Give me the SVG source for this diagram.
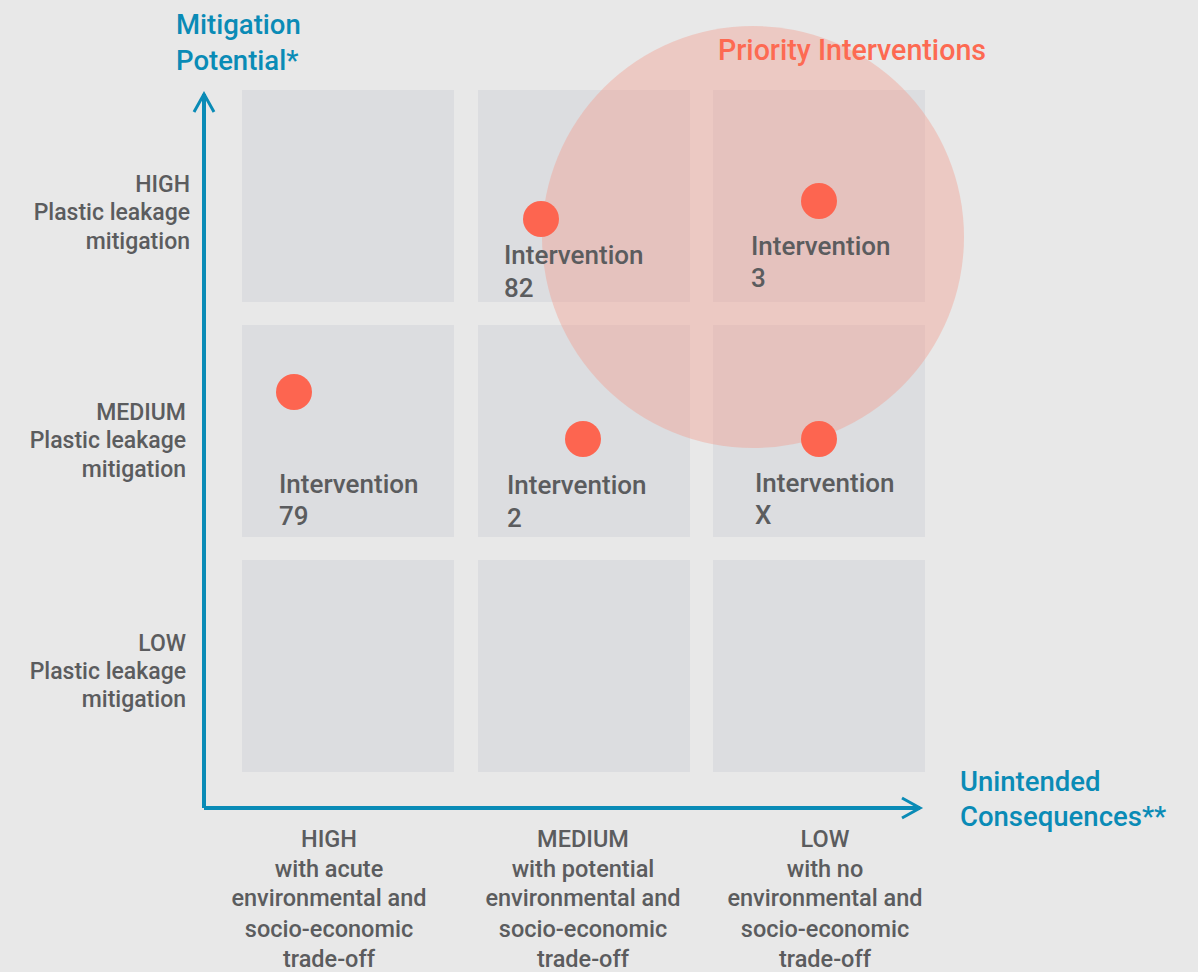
<svg xmlns="http://www.w3.org/2000/svg" width="1198" height="972" viewBox="0 0 1198 972">
<style>
.cell{fill:#dcdde0}
text{font-family:Roboto,"Liberation Sans",sans-serif;font-weight:500}
.ax{font-size:23px;fill:#5b5c5e}
.axx{font-size:23.5px;fill:#5b5c5e}
.iv{font-size:26px;fill:#5b5c5e}
.ttl{font-size:27.5px;fill:#0a8bb6}
.dot{fill:#fd6550}
.axis{stroke:#0a8bb6;stroke-width:4;fill:none}
</style>
<defs>
<marker id="arr" viewBox="0 0 12 12" refX="10" refY="6" markerWidth="6" markerHeight="6" orient="auto" markerUnits="strokeWidth">
<path d="M1,1 L10,6 L1,11" fill="none" stroke="#0a8bb6" stroke-width="1.5"/>
</marker>
</defs>
<rect width="1198" height="972" fill="#e8e8e8"/>
<g id="grid">
<rect class="cell" x="242" y="90" width="212" height="212"/>
<rect class="cell" x="478" y="90" width="212" height="212"/>
<rect class="cell" x="713" y="90" width="212" height="212"/>
<rect class="cell" x="242" y="325" width="212" height="212"/>
<rect class="cell" x="478" y="325" width="212" height="212"/>
<rect class="cell" x="713" y="325" width="212" height="212"/>
<rect class="cell" x="242" y="560" width="212" height="212"/>
<rect class="cell" x="478" y="560" width="212" height="212"/>
<rect class="cell" x="713" y="560" width="212" height="212"/>
</g>
<g id="priority">
<circle cx="753" cy="237" r="211" fill="#f29a8c" fill-opacity="0.4"/>
<text x="718" y="60" font-size="28.6" fill="#fd6a52">Priority Interventions</text>
</g>
<g id="connectors">
<path class="axis" d="M204,808 L204,94" marker-end="url(#arr)"/>
<path class="axis" d="M204,808 L920,808" marker-end="url(#arr)"/>
</g>
<g id="titles">
<text class="ttl" x="176" y="34">Mitigation</text>
<text class="ttl" x="176" y="70">Potential*</text>
<text class="ttl" x="960" y="791">Unintended</text>
<text class="ttl" x="960" y="826">Consequences**</text>
</g>
<g id="ylabels" text-anchor="end">
<text class="ax" x="190" y="192">HIGH</text>
<text class="ax" x="190" y="220">Plastic leakage</text>
<text class="ax" x="190" y="249">mitigation</text>
<text class="ax" x="186" y="420">MEDIUM</text>
<text class="ax" x="186" y="448">Plastic leakage</text>
<text class="ax" x="186" y="477">mitigation</text>
<text class="ax" x="186" y="651">LOW</text>
<text class="ax" x="186" y="679">Plastic leakage</text>
<text class="ax" x="186" y="707">mitigation</text>
</g>
<g id="xlabels" text-anchor="middle">
<text class="axx" x="329" y="847">HIGH</text>
<text class="axx" x="329" y="877">with acute</text>
<text class="axx" x="329" y="906">environmental and</text>
<text class="axx" x="329" y="937">socio-economic</text>
<text class="axx" x="329" y="967">trade-off</text>
<text class="axx" x="583" y="847">MEDIUM</text>
<text class="axx" x="583" y="877">with potential</text>
<text class="axx" x="583" y="906">environmental and</text>
<text class="axx" x="583" y="937">socio-economic</text>
<text class="axx" x="583" y="967">trade-off</text>
<text class="axx" x="825" y="847">LOW</text>
<text class="axx" x="825" y="877">with no</text>
<text class="axx" x="825" y="906">environmental and</text>
<text class="axx" x="825" y="937">socio-economic</text>
<text class="axx" x="825" y="967">trade-off</text>
</g>
<g id="int82">
<circle class="dot" cx="541" cy="219" r="18"/>
<text class="iv" x="504" y="264">Intervention</text>
<text class="iv" x="504" y="297">82</text>
</g>
<g id="int3">
<circle class="dot" cx="819" cy="201" r="18"/>
<text class="iv" x="751" y="255">Intervention</text>
<text class="iv" x="751" y="287">3</text>
</g>
<g id="int79">
<circle class="dot" cx="294" cy="392" r="18"/>
<text class="iv" x="279" y="493">Intervention</text>
<text class="iv" x="279" y="525">79</text>
</g>
<g id="int2">
<circle class="dot" cx="583" cy="439" r="18"/>
<text class="iv" x="507" y="494">Intervention</text>
<text class="iv" x="507" y="527">2</text>
</g>
<g id="intX">
<circle class="dot" cx="819" cy="439" r="18"/>
<text class="iv" x="755" y="492">Intervention</text>
<text class="iv" x="755" y="524">X</text>
</g>
</svg>
